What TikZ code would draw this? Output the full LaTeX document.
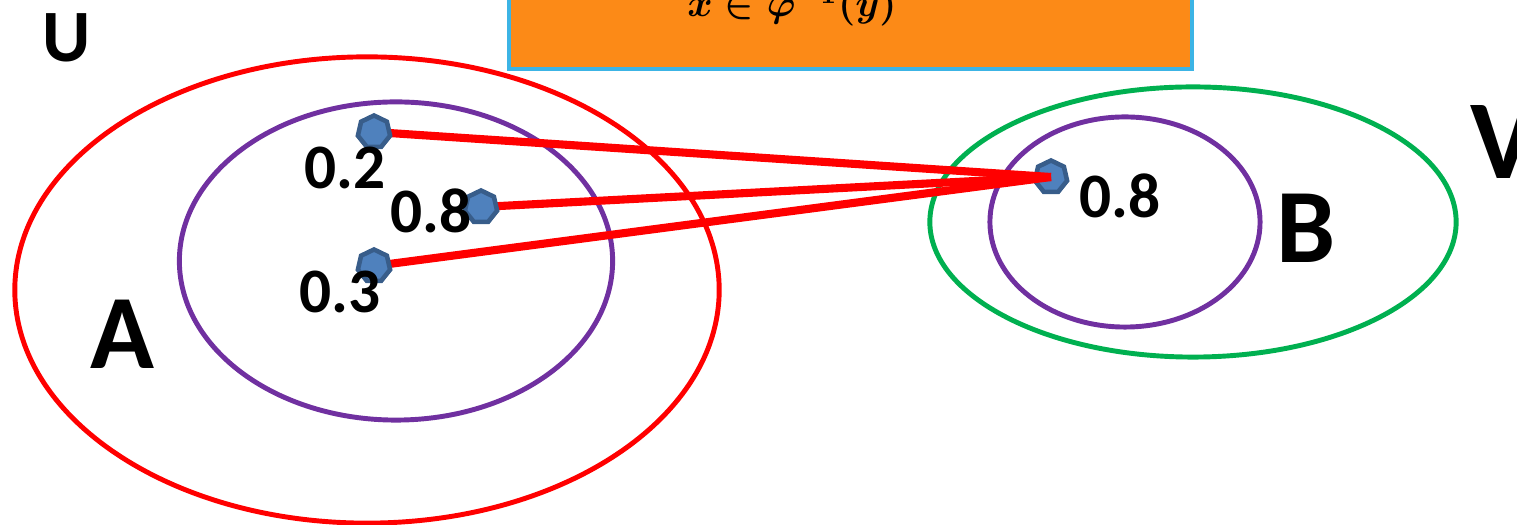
\documentclass[tikz,border=0pt]{standalone}
\usepackage{amsmath}
\usepackage{fontspec}
\setmainfont{Carlito}
\usetikzlibrary{shapes.geometric}

\definecolor{setred}{HTML}{FF0000}
\definecolor{setpurple}{HTML}{7030A0}
\definecolor{setgreen}{HTML}{00B050}
\definecolor{dotblue}{HTML}{4F81BD}
\definecolor{dotedge}{HTML}{385D8A}
\definecolor{boxorange}{HTML}{FC8A17}
\definecolor{boxedge}{HTML}{3CB4E5}

\tikzset{
  setline/.style={draw=#1, ellipse, inner sep=0pt, line width=1.4pt},
  dot/.style={regular polygon, regular polygon sides=7, minimum size=0.33cm,
    inner sep=0pt, fill=dotblue, draw=dotedge, line width=1.3pt},
  val/.style={font=\fontsize{18}{20}\selectfont\bfseries},
  setname/.style={font=\fontsize{30}{34}\selectfont\bfseries},
  link/.style={draw=setred, line width=2.3pt}
}

\begin{document}
\begin{tikzpicture}[x=0.01cm, y=-0.01cm]
  \useasboundingbox (0,0) rectangle (1517,525);
  \clip (0,0) rectangle (1517,525);

  % Formula box, cut off at the top
  \node[fill=boxorange, draw=boxedge, line width=1pt, inner sep=0pt,
    minimum width=6.83cm, minimum height=1cm, anchor=south west]
    (formulabox) at (507,71) {};
  \node[anchor=base, font=\fontsize{10.5}{12}\selectfont] (formula) at (792,17)
    {$\boldsymbol{x\in\varphi^{-1}(y)}$};

  % Sets
  \node[setline=setred, minimum width=7.04cm, minimum height=4.66cm] (setU) at (367,290) {};
  \node[setline=setpurple, minimum width=4.33cm, minimum height=3.18cm] (setA) at (396,261) {};
  \node[setline=setgreen, minimum width=5.26cm, minimum height=2.70cm] (setV) at (1193,222) {};
  \node[setline=setpurple, minimum width=2.70cm, minimum height=2.10cm] (setB) at (1125,222) {};

  \node[font=\fontsize{21}{24}\selectfont\bfseries] (nameU) at (67,38) {U};
  \node[setname] (nameA) at (122,334) {A};
  \node[setname] (nameB) at (1306,228) {B};
  \node[font=\fontsize{32}{36}\selectfont\bfseries, anchor=west, inner sep=0pt] (nameV) at (1470,142) {V};

  % Points and the map
  \coordinate (p1) at (374,132);
  \coordinate (p2) at (481,207);
  \coordinate (p3) at (374,266);
  \node[dot] (d4) at (1051,177) {};
  \draw[link] (p1) -- (d4.center);
  \draw[link] (p2) -- (d4.center);
  \draw[link] (p3) -- (d4.center);
  \node[dot] (d1) at (p1) {};
  \node[dot] (d2) at (p2) {};
  \node[dot] (d3) at (p3) {};

  % Values
  \node[val] (v1) at (345,168) {0.2};
  \node[val] (v2) at (431,211) {0.8};
  \node[val] (v3) at (340,292) {0.3};
  \node[val] (v4) at (1120,196) {0.8};
\end{tikzpicture}
\end{document}
